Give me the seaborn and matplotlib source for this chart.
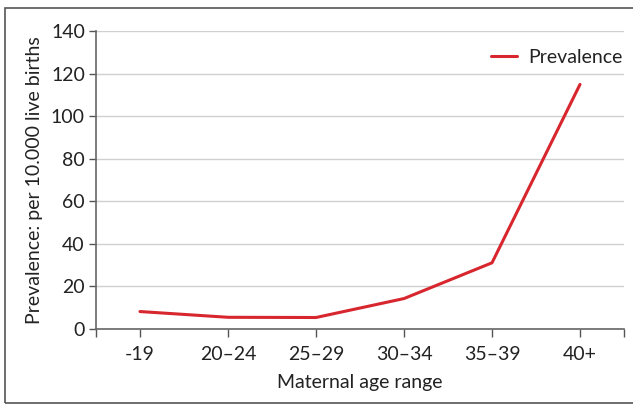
import matplotlib
matplotlib.use("Agg")
import matplotlib.pyplot as plt
import seaborn as sns
import pandas as pd
from matplotlib.patches import Rectangle

age_ranges = ["-19", "20\u201324", "25\u201329", "30\u201334", "35\u201339", "40+"]
prevalence = [8.2, 5.5, 5.4, 14.3, 31.1, 114.9]
y_ticks = [0, 20, 40, 60, 80, 100, 120, 140]

df = pd.DataFrame({"age": age_ranges, "prev": prevalence, "x": range(len(age_ranges))})

sns.set_theme(style="white")
plt.rcParams['font.family'] = ['Lato', 'DejaVu Sans']

FS = 14
fig = plt.figure(figsize=(6.33, 4.04), dpi=100)
W, H = 633, 404
ax = fig.add_axes([96 / W, 1 - 329 / H, (624 - 96) / W, (329 - 31) / H])

sns.lineplot(data=df, x="x", y="prev", ax=ax, color="#D7262D", linewidth=2.2,
             label="Prevalence", legend=True)

ax.set_xlim(-0.5, len(age_ranges) - 0.5)
ax.set_ylim(0, 140)
ax.set_yticks(y_ticks)
ax.set_yticklabels([str(v) for v in y_ticks], fontsize=FS, color="#222222")
ax.set_xticks(range(len(age_ranges)))
ax.set_xticklabels(age_ranges, fontsize=FS, color="#222222")
ax.set_xticks([-0.5, len(age_ranges) - 0.5], minor=True)
ax.tick_params(axis="x", which="both", direction="out", length=6, width=1, color="#555555", bottom=True, pad=6)
ax.tick_params(axis="y", which="major", direction="out", length=5, width=1, color="#555555", left=True, pad=3)

ax.grid(axis="y", color="#D0D0D0", linewidth=1)
ax.set_axisbelow(True)
for s in ["top", "right"]:
    ax.spines[s].set_visible(False)
for s in ["left", "bottom"]:
    ax.spines[s].set_color("#666666")
    ax.spines[s].set_linewidth(1.2)

ax.set_xlabel("Maternal age range", fontsize=FS, color="#222222", labelpad=8)
ax.set_ylabel("Prevalence: per 10.000 live births", fontsize=FS, color="#222222", labelpad=6)

leg = ax.legend(loc="upper right", bbox_to_anchor=(1.012, 0.965), frameon=False, fontsize=FS,
                handlelength=1.3, handletextpad=0.6, borderaxespad=0)
for t in leg.get_texts():
    t.set_color("#222222")

fig.patches.append(Rectangle((5 / W, 1 / H), 1.0, 1 - 9 / H, transform=fig.transFigure,
                             fill=False, edgecolor="#555555", linewidth=1.2))

fig.savefig("out.png", dpi=100)
